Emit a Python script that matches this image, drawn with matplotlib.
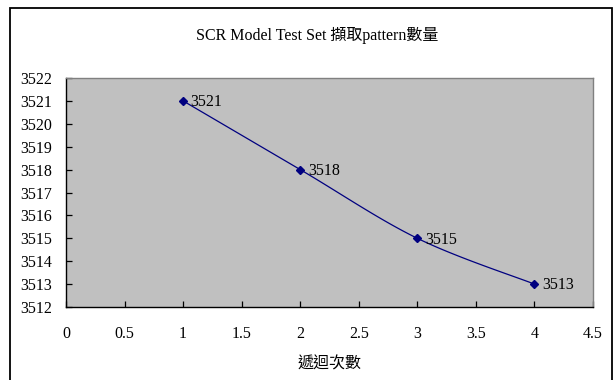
import matplotlib
matplotlib.use("Agg")
import matplotlib.pyplot as plt
import matplotlib.patches as patches
import numpy as np

iterations = [1, 2, 3, 4]
pattern_counts = [3521, 3518, 3515, 3513]
x_ticks = [0, 0.5, 1, 1.5, 2, 2.5, 3, 3.5, 4, 4.5]
y_ticks = list(range(3512, 3523))
title_text = "SCR Model Test Set 擷取pattern數量"
xlabel_text = "遞迴次數"

FAM = ['Liberation Serif', 'Noto Sans CJK TC']
plt.rcParams['font.family'] = FAM

W, H = 615, 380
fig = plt.figure(figsize=(W / 100, H / 100), dpi=100)
fig.patch.set_facecolor('white')

# outer chart border (extends below the visible area)
border = patches.Rectangle((10 / W, -0.05), (612 - 10) / W, 1 - 8 / H + 0.05,
                           transform=fig.transFigure, fill=False,
                           edgecolor='black', linewidth=1.3, clip_on=False)
fig.patches.append(border)

L, R, T, B = 66, 593, 78, 307
ax = fig.add_axes([L / W, 1 - B / H, (R - L) / W, (B - T) / H])
ax.set_facecolor('#C0C0C0')


def smooth(xs, ys, n=40):
    P = np.column_stack([xs, ys]).astype(float)
    out = []
    m = len(P)
    for i in range(m - 1):
        p0 = P[i - 1] if i > 0 else P[i]
        p1 = P[i]
        p2 = P[i + 1]
        p3 = P[i + 2] if i + 2 < m else P[i + 1]
        c1 = p1 + (p2 - p0) / 6.0
        c2 = p2 - (p3 - p1) / 6.0
        t = np.linspace(0, 1, n)[:, None]
        seg = ((1 - t) ** 3) * p1 + 3 * ((1 - t) ** 2) * t * c1 + 3 * (1 - t) * t ** 2 * c2 + t ** 3 * p2
        out.append(seg if i == 0 else seg[1:])
    out = np.vstack(out)
    return out[:, 0], out[:, 1]


sx, sy = smooth(iterations, pattern_counts)
ax.plot(sx, sy, color='#000080', linewidth=0.9)
ax.plot(iterations, pattern_counts, linestyle='none', marker='D',
        markersize=3.8, color='#000080')

for xv, yv in zip(iterations, pattern_counts):
    ax.annotate(str(yv), (xv, yv), xytext=(5.5, -1), textcoords='offset points',
                ha='left', va='center', fontsize=11.5, color='black', family=FAM)

ax.set_xlim(0, 4.5)
ax.set_ylim(3512, 3522)
ax.set_xticks(x_ticks)
ax.set_xticklabels([('%g' % v) for v in x_ticks])
ax.set_yticks(y_ticks)
ax.set_yticklabels([str(v) for v in y_ticks])
ax.tick_params(axis='both', direction='in', length=4, width=0.9, labelsize=11.5,
               colors='black')
ax.tick_params(axis='x', pad=14)
ax.tick_params(axis='y', pad=10)
ax.spines['left'].set_color('black')
ax.spines['bottom'].set_color('black')
ax.spines['top'].set_color('#808080')
ax.spines['right'].set_color('#808080')
for s in ax.spines.values():
    s.set_linewidth(1.0)

fig.text(317 / W, 1 - 35 / H, title_text, ha='center', va='center',
         fontsize=11.5, family=FAM)
fig.text(330 / W, 1 - 365 / H, xlabel_text, ha='center', va='center',
         fontsize=11.5, family=FAM)

fig.savefig('out.png', dpi=100)
